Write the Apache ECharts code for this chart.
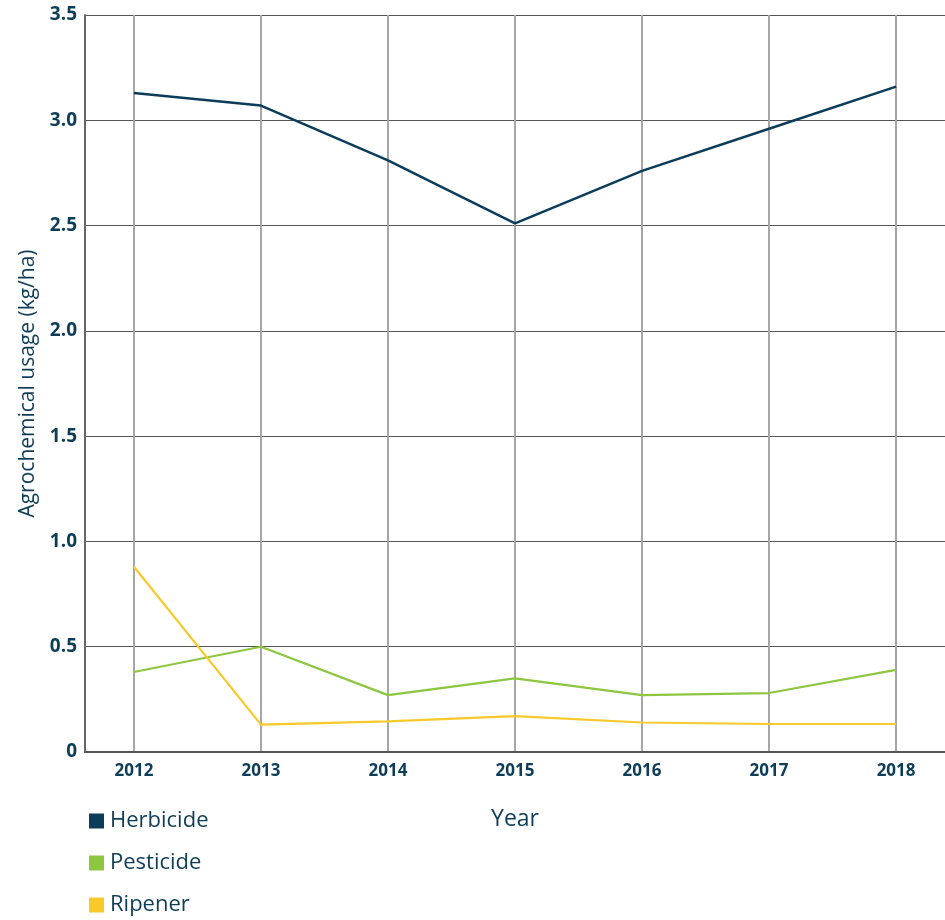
<!DOCTYPE html>
<html><head><meta charset="utf-8">
<script src="https://cdn.jsdelivr.net/npm/echarts@6/dist/echarts.min.js"></script>
<style>html,body{margin:0;padding:0;background:#fff}#c{width:945px;height:920px}</style>
</head><body><div id="c"></div>
<script>
const years = [2012, 2013, 2014, 2015, 2016, 2017, 2018];
const seriesNames = ['Herbicide', 'Pesticide', 'Ripener'];
const herbicide = [3.13, 3.07, 2.81, 2.51, 2.76, 2.96, 3.16];
const pesticide = [0.38, 0.50, 0.27, 0.35, 0.27, 0.28, 0.39];
const ripener = [0.88, 0.13, 0.145, 0.17, 0.14, 0.133, 0.133];
const yTicks = [0, 0.5, 1.0, 1.5, 2.0, 2.5, 3.0, 3.5];

const colors = ['#0b3d5b', '#8dc63f', '#f8c92a'];
const values = [herbicide, pesticide, ripener];
const textColor = '#0e3d58';
const font = 'Open Sans';

const chart = echarts.init(document.getElementById('c'));
chart.setOption({
  animation: false,
  grid: { left: 85, right: 0, top: 15, bottom: 168, containLabel: false },
  legend: {
    data: seriesNames.map((n, i) => ({ name: n, icon: 'rect', itemStyle: { color: colors[i] } })),
    orient: 'vertical', left: 84, top: 805, height: 115, itemGap: 20,
    itemWidth: 15, itemHeight: 15,
    textStyle: { color: textColor, fontSize: 22, fontFamily: font, padding: [0, 0, 0, 1] },
    selectedMode: false
  },
  xAxis: {
    type: 'value', min: 2011.615, max: 2018.385,
    name: 'Year', nameLocation: 'middle', nameGap: 56,
    nameTextStyle: { color: textColor, fontSize: 23, fontFamily: font },
    axisLine: { show: true, lineStyle: { color: '#555', width: 2 } },
    axisTick: { show: false, customValues: years },
    axisLabel: { customValues: years, formatter: v => String(Math.round(v)), color: textColor,
      fontSize: 17, fontWeight: 'bold', fontFamily: font, margin: 11 },
    splitLine: { show: true, lineStyle: { color: '#a6a6a6', width: 2 } }
  },
  yAxis: {
    type: 'value', min: 0, max: 3.5, interval: 0.5,
    name: 'Agrochemical usage (kg/ha)', nameLocation: 'middle', nameGap: 45,
    nameTextStyle: { color: textColor, fontSize: 21, fontFamily: font },
    axisLine: { show: true, lineStyle: { color: '#666', width: 2 } },
    axisTick: { show: false },
    axisLabel: { formatter: v => (v === 0 ? '0' : v.toFixed(1)), color: textColor,
      fontSize: 19, fontWeight: 'bold', fontFamily: font, margin: 8 },
    splitLine: { show: true, lineStyle: { color: '#555', width: 1 } }
  },
  series: seriesNames.map((n, i) => ({
    name: n, type: 'line', symbol: 'none',
    data: years.map((y, j) => [y, values[i][j]]),
    lineStyle: { color: colors[i], width: i === 0 ? 2.5 : 2.2 },
    itemStyle: { color: colors[i] }
  }))
});
</script></body></html>
